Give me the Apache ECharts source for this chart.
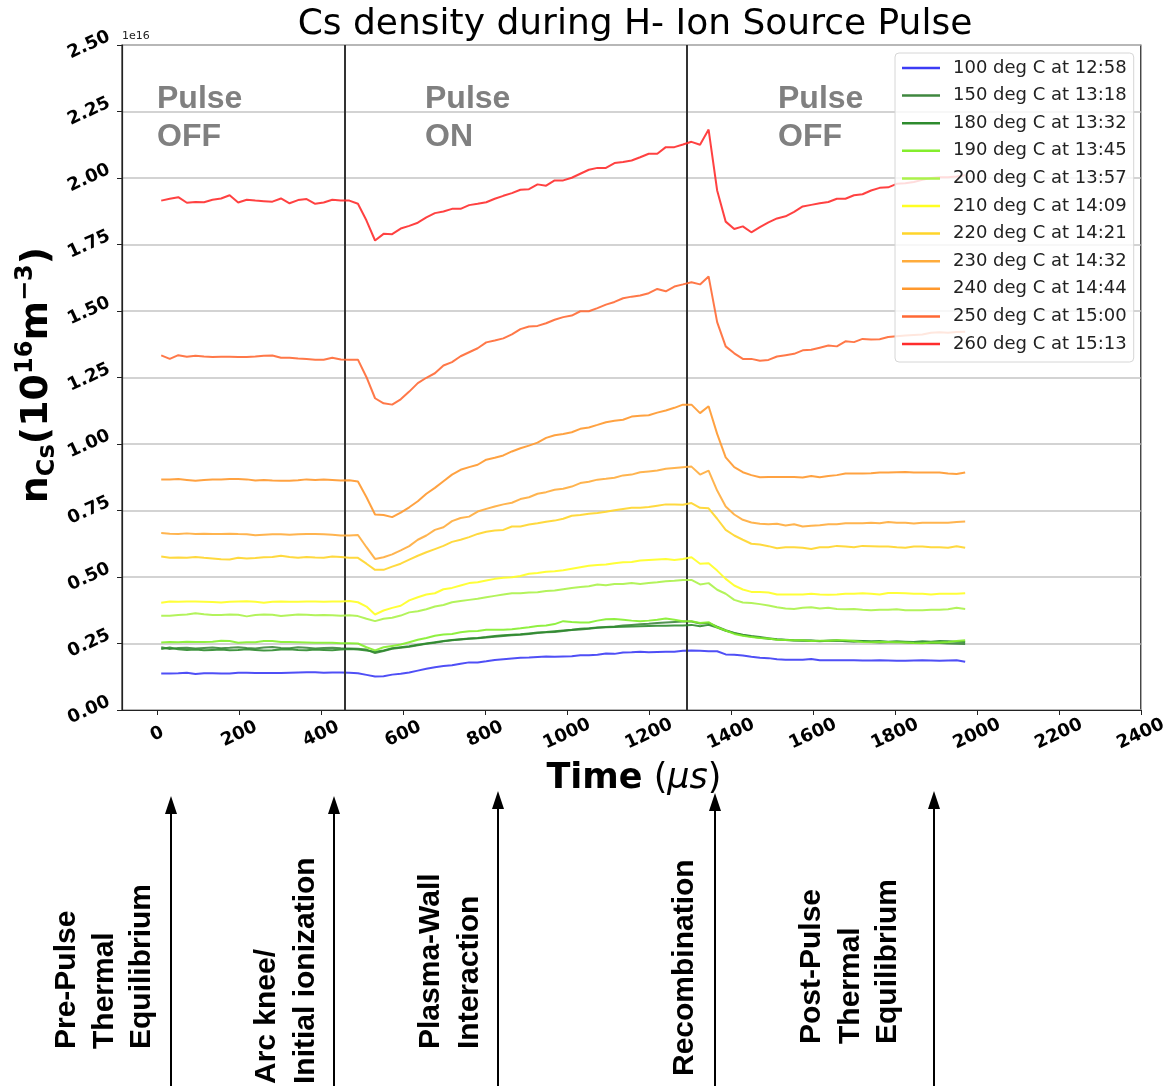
<!DOCTYPE html>
<html><head><meta charset="utf-8">
<script src="https://cdn.jsdelivr.net/npm/echarts/dist/echarts.min.js"></script>
<style>html,body{margin:0;padding:0;background:#fff}#c{width:1170px;height:1088px}</style>
</head><body><div id="c"></div>
<script>
// ---------------- DATA ----------------
const timeUs = [9.7,30.6,51.4,72.3,93.2,114.1,134.9,155.8,176.7,197.5,
218.4,239.3,260.1,281.0,301.9,322.8,343.6,364.5,385.4,406.2,
427.1,448.0,468.8,489.7,510.6,531.5,552.3,573.2,594.1,614.9,
635.8,656.7,677.5,698.4,719.3,740.2,761.0,781.9,802.8,823.6,
844.5,865.4,886.2,907.1,928.0,948.9,969.7,990.6,1011.5,1032.3,
1053.2,1074.1,1094.9,1115.8,1136.7,1157.6,1178.4,1199.3,1220.2,1241.0,
1261.9,1282.8,1303.6,1324.5,1345.4,1366.3,1387.1,1408.0,1428.9,1449.7,
1470.6,1491.5,1512.3,1533.2,1554.1,1575.0,1595.8,1616.7,1637.6,1658.4,
1679.3,1700.2,1721.0,1741.9,1762.8,1783.6,1804.5,1825.4,1846.3,1867.1,
1888.0,1908.9,1929.7,1950.6,1971.5];

const seriesNames = ['100 deg C at 12:58','150 deg C at 13:18','180 deg C at 13:32','190 deg C at 13:45',
  '200 deg C at 13:57','210 deg C at 14:09','220 deg C at 14:21','230 deg C at 14:32',
  '240 deg C at 14:44','250 deg C at 15:00','260 deg C at 15:13'];

// values in units of 1e16 m^-3
const n100 = [0.137,0.137,0.138,0.140,0.135,0.138,0.138,0.137,0.137,0.140,
0.140,0.139,0.139,0.139,0.139,0.140,0.141,0.142,0.142,0.140,
0.141,0.141,0.140,0.138,0.132,0.126,0.127,0.133,0.136,0.141,
0.148,0.155,0.161,0.165,0.168,0.174,0.179,0.179,0.183,0.188,
0.191,0.194,0.196,0.197,0.199,0.201,0.200,0.201,0.202,0.206,
0.206,0.208,0.212,0.211,0.216,0.217,0.219,0.217,0.218,0.219,
0.219,0.223,0.224,0.223,0.221,0.221,0.209,0.208,0.205,0.200,
0.196,0.195,0.191,0.189,0.189,0.189,0.192,0.187,0.187,0.187,
0.187,0.187,0.186,0.186,0.187,0.186,0.185,0.185,0.186,0.187,
0.186,0.185,0.186,0.187,0.181];
const n150 = [0.236,0.229,0.233,0.234,0.231,0.233,0.235,0.232,0.234,0.236,
0.233,0.231,0.235,0.237,0.233,0.232,0.236,0.234,0.231,0.233,
0.234,0.232,0.231,0.230,0.227,0.214,0.222,0.230,0.234,0.238,
0.243,0.249,0.253,0.258,0.262,0.265,0.268,0.270,0.273,0.275,
0.278,0.281,0.283,0.286,0.289,0.292,0.293,0.297,0.301,0.303,
0.305,0.309,0.312,0.314,0.318,0.320,0.322,0.324,0.327,0.329,
0.331,0.333,0.333,0.325,0.327,0.313,0.300,0.290,0.283,0.278,
0.274,0.270,0.266,0.264,0.262,0.262,0.260,0.258,0.260,0.261,
0.258,0.257,0.258,0.256,0.254,0.255,0.256,0.254,0.252,0.252,
0.253,0.252,0.250,0.249,0.248];
const n180 = [0.229,0.235,0.228,0.226,0.227,0.225,0.226,0.227,0.225,0.226,
0.228,0.226,0.224,0.225,0.227,0.228,0.226,0.225,0.227,0.226,
0.225,0.227,0.229,0.227,0.224,0.219,0.224,0.232,0.236,0.240,
0.245,0.250,0.255,0.259,0.263,0.266,0.269,0.271,0.274,0.278,
0.281,0.283,0.285,0.288,0.291,0.293,0.296,0.299,0.302,0.305,
0.307,0.310,0.311,0.312,0.313,0.314,0.315,0.316,0.317,0.317,
0.318,0.318,0.320,0.315,0.320,0.310,0.298,0.289,0.281,0.276,
0.272,0.268,0.265,0.263,0.261,0.260,0.261,0.259,0.260,0.261,
0.259,0.260,0.259,0.258,0.259,0.257,0.258,0.257,0.256,0.258,
0.257,0.259,0.258,0.257,0.256];
const n190 = [0.254,0.256,0.255,0.257,0.256,0.256,0.257,0.260,0.259,0.253,
0.255,0.255,0.259,0.259,0.256,0.256,0.255,0.254,0.253,0.253,
0.253,0.251,0.251,0.250,0.236,0.224,0.236,0.241,0.246,0.255,
0.264,0.271,0.279,0.284,0.286,0.292,0.296,0.297,0.302,0.302,
0.302,0.304,0.307,0.311,0.316,0.318,0.323,0.334,0.331,0.329,
0.329,0.336,0.341,0.342,0.339,0.336,0.334,0.336,0.339,0.344,
0.339,0.334,0.334,0.327,0.330,0.311,0.299,0.286,0.279,0.274,
0.271,0.269,0.264,0.263,0.262,0.262,0.259,0.260,0.260,0.262,
0.262,0.259,0.256,0.255,0.256,0.256,0.255,0.254,0.252,0.251,
0.254,0.254,0.256,0.259,0.262];
const n200 = [0.354,0.354,0.357,0.359,0.364,0.360,0.357,0.357,0.359,0.358,
0.352,0.357,0.359,0.358,0.353,0.356,0.359,0.358,0.356,0.357,
0.356,0.354,0.356,0.353,0.343,0.334,0.343,0.347,0.355,0.367,
0.371,0.379,0.389,0.395,0.405,0.410,0.414,0.418,0.424,0.429,
0.434,0.439,0.439,0.442,0.443,0.447,0.449,0.454,0.459,0.462,
0.465,0.472,0.469,0.474,0.474,0.477,0.474,0.477,0.480,0.484,
0.486,0.489,0.489,0.472,0.477,0.452,0.437,0.414,0.404,0.402,
0.398,0.393,0.386,0.382,0.380,0.384,0.386,0.382,0.384,0.380,
0.379,0.380,0.377,0.375,0.377,0.377,0.379,0.375,0.375,0.375,
0.377,0.377,0.379,0.384,0.380];
const n210 = [0.403,0.408,0.407,0.408,0.408,0.407,0.406,0.404,0.407,0.408,
0.409,0.407,0.403,0.407,0.408,0.407,0.407,0.408,0.408,0.407,
0.408,0.408,0.410,0.405,0.389,0.359,0.374,0.384,0.392,0.412,
0.424,0.434,0.439,0.454,0.459,0.468,0.477,0.480,0.487,0.493,
0.497,0.499,0.504,0.512,0.515,0.520,0.522,0.525,0.531,0.537,
0.542,0.545,0.547,0.552,0.555,0.556,0.562,0.564,0.566,0.568,
0.564,0.568,0.574,0.550,0.552,0.524,0.493,0.468,0.453,0.444,
0.444,0.442,0.434,0.434,0.434,0.434,0.437,0.434,0.433,0.434,
0.437,0.437,0.439,0.437,0.434,0.440,0.440,0.439,0.437,0.437,
0.434,0.437,0.437,0.437,0.439];
const n220 = [0.577,0.572,0.573,0.572,0.575,0.572,0.570,0.567,0.566,0.572,
0.570,0.571,0.574,0.575,0.580,0.575,0.572,0.575,0.573,0.572,
0.577,0.575,0.572,0.572,0.550,0.527,0.527,0.539,0.550,0.565,
0.580,0.593,0.605,0.617,0.632,0.640,0.650,0.662,0.670,0.675,
0.677,0.690,0.690,0.697,0.702,0.708,0.712,0.719,0.730,0.733,
0.738,0.741,0.745,0.751,0.756,0.760,0.760,0.763,0.768,0.773,
0.773,0.772,0.778,0.760,0.758,0.719,0.677,0.656,0.640,0.625,
0.622,0.616,0.608,0.612,0.612,0.610,0.605,0.612,0.612,0.617,
0.615,0.612,0.617,0.616,0.615,0.615,0.612,0.610,0.615,0.615,
0.612,0.612,0.610,0.616,0.610];
const n230 = [0.665,0.663,0.662,0.664,0.662,0.663,0.662,0.662,0.663,0.662,
0.661,0.657,0.659,0.661,0.661,0.659,0.661,0.662,0.662,0.661,
0.659,0.656,0.656,0.658,0.612,0.568,0.574,0.585,0.600,0.616,
0.640,0.656,0.677,0.687,0.710,0.722,0.727,0.746,0.756,0.765,
0.773,0.779,0.793,0.800,0.813,0.819,0.828,0.832,0.840,0.853,
0.858,0.866,0.869,0.873,0.882,0.885,0.894,0.897,0.900,0.907,
0.910,0.913,0.915,0.885,0.900,0.825,0.765,0.735,0.715,0.705,
0.700,0.698,0.700,0.694,0.698,0.690,0.693,0.695,0.698,0.698,
0.702,0.702,0.702,0.704,0.702,0.707,0.704,0.704,0.701,0.704,
0.704,0.704,0.704,0.707,0.709];
const n240 = [0.867,0.867,0.868,0.865,0.862,0.865,0.867,0.867,0.868,0.868,
0.867,0.863,0.865,0.863,0.862,0.862,0.864,0.867,0.865,0.867,
0.865,0.863,0.864,0.859,0.800,0.735,0.733,0.725,0.742,0.762,
0.785,0.813,0.835,0.860,0.885,0.903,0.913,0.922,0.941,0.948,
0.957,0.972,0.984,0.994,1.005,1.023,1.033,1.038,1.044,1.057,
1.062,1.072,1.082,1.087,1.091,1.103,1.106,1.108,1.118,1.126,
1.136,1.148,1.148,1.116,1.142,1.038,0.950,0.913,0.894,0.883,
0.875,0.876,0.876,0.876,0.876,0.874,0.880,0.875,0.880,0.883,
0.889,0.889,0.889,0.890,0.893,0.893,0.894,0.895,0.893,0.893,
0.893,0.893,0.889,0.887,0.893];
const n250 = [1.333,1.320,1.334,1.328,1.332,1.329,1.327,1.328,1.328,1.327,
1.327,1.329,1.332,1.333,1.324,1.324,1.321,1.320,1.317,1.317,
1.324,1.318,1.317,1.317,1.251,1.172,1.153,1.148,1.168,1.197,
1.229,1.249,1.266,1.295,1.308,1.330,1.345,1.360,1.382,1.389,
1.397,1.412,1.432,1.442,1.444,1.454,1.467,1.477,1.483,1.499,
1.499,1.511,1.524,1.534,1.548,1.554,1.558,1.567,1.583,1.574,
1.592,1.600,1.608,1.600,1.630,1.458,1.367,1.341,1.320,1.320,
1.313,1.316,1.329,1.334,1.339,1.352,1.354,1.362,1.370,1.367,
1.386,1.383,1.395,1.393,1.394,1.402,1.405,1.408,1.410,1.412,
1.418,1.420,1.418,1.421,1.422];
const n260 = [1.915,1.922,1.928,1.907,1.910,1.909,1.918,1.923,1.935,1.908,
1.918,1.915,1.913,1.911,1.923,1.905,1.917,1.921,1.903,1.908,
1.918,1.915,1.915,1.903,1.840,1.765,1.790,1.789,1.810,1.820,
1.832,1.852,1.868,1.874,1.884,1.884,1.898,1.903,1.909,1.922,
1.933,1.943,1.956,1.958,1.976,1.971,1.991,1.991,2.001,2.016,
2.031,2.038,2.038,2.056,2.060,2.066,2.078,2.091,2.091,2.116,
2.116,2.126,2.136,2.125,2.182,1.953,1.836,1.808,1.818,1.796,
1.815,1.833,1.848,1.856,1.873,1.893,1.899,1.905,1.910,1.922,
1.922,1.935,1.939,1.953,1.963,1.965,1.978,1.980,1.985,1.993,
2.000,2.003,2.003,2.006,2.010];

const pulseEdgesUs = [458, 1292];
const xTickValues = [0,200,400,600,800,1000,1200,1400,1600,1800,2000,2200,2400];
const yTickValues = [0,0.25,0.5,0.75,1.0,1.25,1.5,1.75,2.0,2.25,2.5];
const regionLabels = [['Pulse','OFF'],['Pulse','ON'],['Pulse','OFF']];
const phaseLabels = [
  ['Pre-Pulse','Thermal','Equilibrium'],
  ['Arc knee/','Initial ionization'],
  ['Plasma-Wall','Interaction'],
  ['Recombination'],
  ['Post-Pulse','Thermal','Equilibrium']
];
const allValues = [n100,n150,n180,n190,n200,n210,n220,n230,n240,n250,n260];

// ---------------- STYLE ----------------
const seriesColors = ['#3c3cf5','#3f873f','#2e8b2e','#84ee2c','#abf24a','#ffff22','#ffd52a','#ffac3c','#ff982c','#ff6934','#ff2c2c'];

const chart = echarts.init(document.getElementById('c'), null, {renderer:'canvas'});
const series = allValues.map((vals, k) => ({
  name: seriesNames[k], type: 'line', color: seriesColors[k],
  data: vals.map((v, i) => [timeUs[i], v]),
  symbol: 'none', lineStyle: {width: 2, opacity: 0.9}, z: 3 + k, silent: true
}));
series[0].markLine = {
  silent: true, symbol: 'none', label: {show: false},
  lineStyle: {color: '#333', width: 2, type: 'solid', opacity: 1},
  data: pulseEdgesUs.map(v => ({xAxis: v}))
};

const tickFont = 'DejaVu Sans';
const graphics = [];
// title
graphics.push({type:'text', x: 635, y: 25, style:{text:'Cs density during H- Ion Source Pulse', font:'36px "DejaVu Sans"', fill:'#000', textAlign:'center', textVerticalAlign:'middle', align:'center', verticalAlign:'middle'}});
// 1e16 offset
graphics.push({type:'text', x: 122, y: 36, style:{text:'1e16', font:'11px "DejaVu Sans"', fill:'#222', textAlign:'left', textVerticalAlign:'middle', align:'left', verticalAlign:'middle'}});
// region labels
const regionX = [157, 425, 778];
regionLabels.forEach((lines, k) => {
  graphics.push({type:'text', x: regionX[k], y: 80, z: 10, style:{text: lines.join('\n'), font:'bold 32px "Liberation Sans"', lineHeight: 38, fill:'#808080', textAlign:'left', textVerticalAlign:'top', align:'left', verticalAlign:'top'}});
});
// y axis title
graphics.push({type:'text', x: 37, y: 375, rotation: Math.PI/2, style:{
  text: '{m|n}{sub|Cs}{m|(10}{sup|16}{m|m}{sup|−3}{m|)}',
  textAlign:'center', textVerticalAlign:'middle', align:'center', verticalAlign:'middle',
  rich: {
    m: {font:'bold 38px "DejaVu Sans"', fill:'#000', lineHeight: 46, verticalAlign:'middle'},
    sub: {font:'bold 24px "DejaVu Sans"', fill:'#000', lineHeight: 24, verticalAlign:'bottom'},
    sup: {font:'bold 24px "DejaVu Sans"', fill:'#000', lineHeight: 24, verticalAlign:'top'}
  }}});
// x axis title
graphics.push({type:'text', x: 634, y: 779, style:{
  text: '{b|Time}{n| (}{i|μs}{n|)}', textAlign:'center', textVerticalAlign:'middle', align:'center', verticalAlign:'middle',
  rich: {
    b: {font:'bold 35px "DejaVu Sans"', fill:'#000'},
    n: {font:'35px "DejaVu Sans"', fill:'#000'},
    i: {font:'italic 35px "DejaVu Sans"', fill:'#000'}
  }}});
// arrows
const arrowX = [171, 334, 498, 715, 934];
const arrowTip = [796, 796, 791, 793, 791];
arrowX.forEach((x, k) => {
  graphics.push({type:'line', shape:{x1:x, y1:arrowTip[k]+10, x2:x, y2:1086}, style:{stroke:'#000', lineWidth:2}});
  graphics.push({type:'polygon', shape:{points:[[x-6, arrowTip[k]+18],[x, arrowTip[k]],[x+6, arrowTip[k]+18]]}, style:{fill:'#000'}});
});
// phase labels (rotated)
const phaseCols = [[67,104.5,142],[267,306],[431,470],[685],[812,851,888]];
const phaseBottom = [1049, 1084, 1049, 1076, 1044];
phaseLabels.forEach((lines, k) => {
  lines.forEach((t, j) => {
    graphics.push({type:'text', x: phaseCols[k][j], y: phaseBottom[k], rotation: Math.PI/2, style:{
      text: t, font:'bold 30px "Liberation Sans"', fill:'#000',
      textAlign:'left', textVerticalAlign:'middle', align:'left', verticalAlign:'middle'}});
  });
});

chart.setOption({
  animation: false,
  backgroundColor: '#fff',
  grid: {left: 122, top: 45, width: 1025, height: 665, show: true, borderColor: '#222', borderWidth: 1.2, backgroundColor: 'transparent'},
  legend: {
    data: seriesNames, orient: 'vertical', left: 895, top: 53,
    padding: [4, 7, 7, 7], itemGap: 5.6, itemWidth: 38, itemHeight: 2.5, icon: 'rect',
    backgroundColor: 'rgba(255,255,255,0.82)', borderColor: '#d6d6d6', borderWidth: 1, borderRadius: 4,
    textStyle: {fontFamily: 'DejaVu Sans', fontSize: 18, color: '#222', lineHeight: 22, padding: [0,0,0,8]},
    selectedMode: false, z: 20
  },
  xAxis: {
    type: 'value', min: -86, max: 2400,
    axisLine: {show: true, onZero: false, lineStyle: {color: '#222', width: 1.2}},
    axisTick: {show: true, length: 5, customValues: xTickValues, lineStyle: {color: '#222'}},
    axisLabel: {customValues: xTickValues, rotate: 25, align: 'center', verticalAlign: 'middle', margin: 24,
      fontFamily: tickFont, fontWeight: 'bold', fontSize: 18, color: '#000', formatter: v => String(v)},
    splitLine: {show: false}
  },
  yAxis: {
    type: 'value', min: 0, max: 2.5, interval: 0.25,
    axisLine: {show: true, onZero: false, lineStyle: {color: '#222', width: 1.2}},
    axisTick: {show: true, length: 5, lineStyle: {color: '#222'}},
    axisLabel: {rotate: 25, align: 'center', verticalAlign: 'middle', margin: 33,
      fontFamily: tickFont, fontWeight: 'bold', fontSize: 18, color: '#000', formatter: v => v.toFixed(2)},
    splitLine: {show: true, lineStyle: {color: '#c4c4c4', width: 1.5}}
  },
  series: series,
  graphic: graphics
});
</script></body></html>
